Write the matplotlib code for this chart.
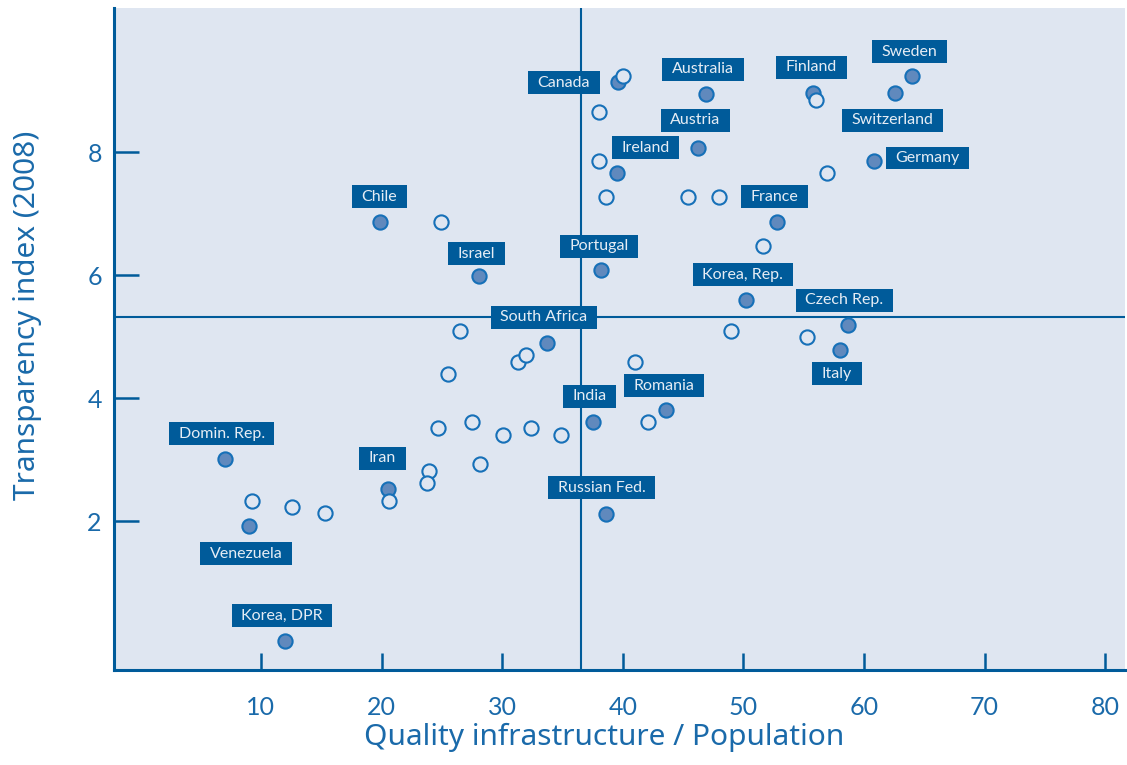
import numpy as np
import matplotlib.pyplot as plt
from matplotlib.path import Path

# labelled countries (filled markers)
countries = ['Chile', 'Israel', 'Canada', 'Australia', 'Austria', 'Ireland', 'Portugal',
             'France', 'Korea, Rep.', 'Finland', 'Sweden', 'Switzerland', 'Germany',
             'Czech Rep.', 'Italy', 'South Africa', 'India', 'Romania', 'Russian Fed.',
             'Domin. Rep.', 'Iran', 'Venezuela', 'Korea, DPR']
quality_lab = [19.9, 28.1, 39.6, 46.9, 46.2, 39.5, 38.2,
               52.8, 50.2, 55.8, 64.0, 62.6, 60.8,
               58.7, 58.0, 33.7, 37.5, 43.6, 38.6,
               7.0, 20.5, 9.0, 12.0]
transp_lab = [6.87, 5.99, 9.15, 8.95, 8.07, 7.67, 6.08,
              6.87, 5.60, 8.96, 9.25, 8.96, 7.86,
              5.19, 4.79, 4.89, 3.61, 3.81, 2.12,
              3.01, 2.52, 1.92, 0.04]

# other countries (open markers)
quality_other = [40.0, 38.0, 38.0, 38.6, 45.4, 48.0, 24.9, 51.6, 56.0, 56.9,
                 55.3, 26.5, 49.0, 25.5, 31.3, 32.0, 41.0, 24.7, 27.5, 30.1,
                 32.4, 34.9, 42.1, 28.2, 23.9, 23.8, 9.3, 12.6, 15.3, 20.6]
transp_other = [9.25, 8.65, 7.86, 7.27, 7.27, 7.27, 6.87, 6.48, 8.85, 7.67,
                4.99, 5.09, 5.09, 4.40, 4.59, 4.70, 4.59, 3.51, 3.61, 3.40,
                3.51, 3.40, 3.61, 2.92, 2.81, 2.62, 2.32, 2.22, 2.13, 2.32]

# label offsets from the marker, in pixels (dx, dy)
label_offsets = {
    'Chile': (-1, 25), 'Israel': (-3, 22), 'Canada': (-54, -1), 'Australia': (-3, 25),
    'Austria': (-2, 28), 'Ireland': (29, 25), 'Portugal': (-2, 24), 'France': (-3, 25),
    'Korea, Rep.': (-3, 25), 'Finland': (-2, 26), 'Sweden': (-3, 24),
    'Switzerland': (-3, -27), 'Germany': (54, 3), 'Czech Rep.': (-4, 25),
    'Italy': (-3, -24), 'South Africa': (-3, 26), 'India': (-3, 26), 'Romania': (-2, 24),
    'Russian Fed.': (-4, 26), 'Domin. Rep.': (-3, 25), 'Iran': (-5, 31),
    'Venezuela': (-3, -28), 'Korea, DPR': (-3, 26),
}

x_split = 36.5
y_split = 5.32

bg = '#dfe6f1'
dark = '#005b9a'
txt = '#1a6aaa'


def label_box(x0, y0, width, height, mutation_size):
    # wider horizontal than vertical padding
    px, py = 0.6 * mutation_size, 0.28 * mutation_size
    x1, y1 = x0 + width + px, y0 + height + py
    x0, y0 = x0 - px, y0 - py
    return Path([(x0, y0), (x1, y0), (x1, y1), (x0, y1), (x0, y0)], closed=True)


plt.rcParams['font.family'] = ['Lato', 'DejaVu Sans']
fig = plt.figure(figsize=(11.27, 7.65), dpi=100)
ax = fig.add_axes([0.1014, 0.1242, 0.8968, 0.8653])
ax.set_facecolor(bg)

ax.axvline(x_split, color=dark, lw=1.5, zorder=1)
ax.axhline(y_split, color=dark, lw=1.5, zorder=1)

ax.scatter(quality_lab, transp_lab, s=105, facecolor='#6089bd', edgecolor='#1670b8',
           linewidth=1.5, zorder=3)
ax.scatter(quality_other, transp_other, s=105, facecolor=bg, edgecolor='#1670b8',
           linewidth=1.5, zorder=4)

for name, qx, ty in zip(countries, quality_lab, transp_lab):
    dx, dy = label_offsets[name]
    ax.annotate(name, (qx, ty), xytext=(dx, dy), textcoords='offset pixels',
                ha='center', va='center', fontsize=11.5, color='#e6edf5', zorder=5,
                bbox=dict(boxstyle=label_box, fc=dark, ec='none'))

ax.set_xlim(-2.16, 81.64)
ax.set_ylim(-0.425, 10.35)
ax.set_xticks([10, 20, 30, 40, 50, 60, 70, 80])
ax.set_yticks([2, 4, 6, 8])

for s in ['top', 'right']:
    ax.spines[s].set_visible(False)
for s in ['left', 'bottom']:
    ax.spines[s].set_color(dark)
    ax.spines[s].set_linewidth(2.2)

ax.tick_params(axis='x', direction='in', length=12, width=1.8, color=dark,
               labelcolor=txt, labelsize=18, pad=19)
ax.tick_params(axis='y', direction='in', length=18, width=1.8, color=dark,
               labelcolor=txt, labelsize=18, pad=9)

ax.set_xlabel('Quality infrastructure / Population', fontsize=21.5, color=txt,
              family=['Noto Sans', 'DejaVu Sans'])
ax.set_ylabel('Transparency index (2008)', fontsize=21.5, color=txt,
              family=['Noto Sans', 'DejaVu Sans'])
ax.xaxis.set_label_coords(0.4845, -0.08)
ax.yaxis.set_label_coords(-0.0715, 0.536)

plt.savefig('out.png', dpi=100)
